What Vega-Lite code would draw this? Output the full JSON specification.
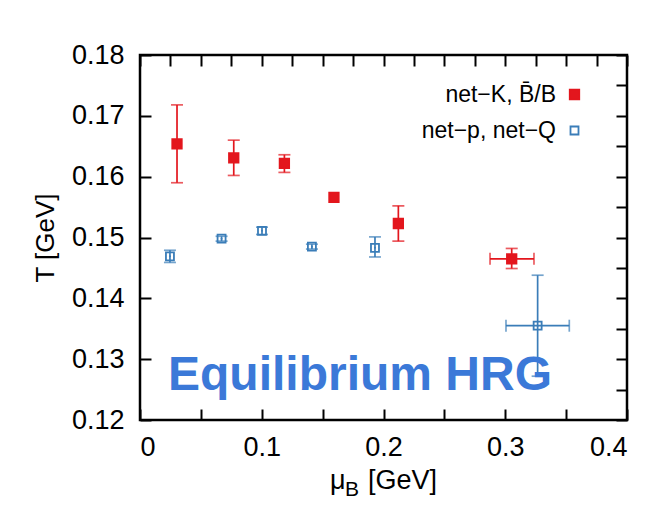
{
  "$schema": "https://vega.github.io/schema/vega-lite/v6.json",
  "width": 487,
  "height": 365,
  "autosize": "none",
  "padding": {"left": 140, "top": 55, "right": 45, "bottom": 85},
  "background": "white",
  "config": {
    "view": {"stroke": "black", "strokeWidth": 2.5},
    "font": "Liberation Sans",
    "axis": {
      "grid": false,
      "domain": false,
      "tickColor": "black",
      "tickWidth": 2,
      "tickSize": -11,
      "labelFont": "Liberation Sans",
      "labelFontSize": 27,
      "labelColor": "black",
      "titleFont": "Liberation Sans",
      "titleFontSize": 26,
      "titleFontWeight": "normal",
      "titleColor": "black"
    },
    "legend": {
      "labelFont": "Liberation Sans",
      "labelFontSize": 23,
      "labelColor": "black",
      "labelLimit": 300,
      "rowPadding": 12,
      "padding": 0,
      "symbolStrokeWidth": 1.8
    }
  },
  "datasets": {
    "pts": [
      {"series": "net−K, B̄/B", "mu": 0.0304, "T": 0.1654, "Tlo": 0.1590, "Thi": 0.1718, "mulo": null, "muhi": null},
      {"series": "net−K, B̄/B", "mu": 0.0770, "T": 0.1631, "Tlo": 0.1602, "Thi": 0.1660, "mulo": null, "muhi": null},
      {"series": "net−K, B̄/B", "mu": 0.1186, "T": 0.1622, "Tlo": 0.1607, "Thi": 0.1636, "mulo": null, "muhi": null},
      {"series": "net−K, B̄/B", "mu": 0.1593, "T": 0.1566, "Tlo": null, "Thi": null, "mulo": null, "muhi": null},
      {"series": "net−K, B̄/B", "mu": 0.2122, "T": 0.1523, "Tlo": 0.1494, "Thi": 0.1552, "mulo": null, "muhi": null},
      {"series": "net−K, B̄/B", "mu": 0.3053, "T": 0.1465, "Tlo": 0.1449, "Thi": 0.1482, "mulo": 0.2875, "muhi": 0.3236},
      {"series": "net−p, net−Q", "mu": 0.0246, "T": 0.1469, "Tlo": 0.1459, "Thi": 0.1479, "mulo": null, "muhi": null},
      {"series": "net−p, net−Q", "mu": 0.0670, "T": 0.1498, "Tlo": 0.1494, "Thi": 0.1502, "mulo": null, "muhi": null},
      {"series": "net−p, net−Q", "mu": 0.1002, "T": 0.1511, "Tlo": 0.1505, "Thi": 0.1517, "mulo": null, "muhi": null},
      {"series": "net−p, net−Q", "mu": 0.1412, "T": 0.1485, "Tlo": 0.1481, "Thi": 0.1489, "mulo": null, "muhi": null},
      {"series": "net−p, net−Q", "mu": 0.1930, "T": 0.1483, "Tlo": 0.1468, "Thi": 0.1501, "mulo": null, "muhi": null},
      {"series": "net−p, net−Q", "mu": 0.3266, "T": 0.1355, "Tlo": 0.1272, "Thi": 0.1438, "mulo": 0.3006, "muhi": 0.3526}
    ]
  },
  "data": {"name": "pts"},
  "layer": [
    {
      "layer": [
        {
          "transform": [{"filter": "datum.Tlo != null"}],
          "mark": {"type": "errorbar", "thickness": 1.7, "ticks": {"size": 12, "thickness": 1.7}},
          "encoding": {
            "x": {
              "field": "mu", "type": "quantitative",
              "scale": {"domain": [0, 0.4], "nice": false, "zero": false},
              "axis": {
                "orient": "bottom", "title": null, "labelPadding": 25,
                "values": [0, 0.025, 0.05, 0.075, 0.1, 0.125, 0.15, 0.175, 0.2, 0.225, 0.25, 0.275, 0.3, 0.325, 0.35, 0.375, 0.4],
                "labelExpr": "abs(datum.value*10 - round(datum.value*10)) < 0.001 ? format(datum.value, '~g') : ''"
              }
            },
            "y": {
              "field": "Tlo", "type": "quantitative",
              "scale": {"domain": [0.12, 0.18], "nice": false, "zero": false},
              "axis": {
                "orient": "left", "title": "T [GeV]", "labelPadding": 27, "titlePadding": 13,
                "values": [0.12, 0.125, 0.13, 0.135, 0.14, 0.145, 0.15, 0.155, 0.16, 0.165, 0.17, 0.175, 0.18],
                "labelExpr": "abs(datum.value*100 - round(datum.value*100)) < 0.001 ? format(datum.value, '.2f') : ''"
              }
            },
            "y2": {"field": "Thi"},
            "color": {
              "field": "series", "type": "nominal", "legend": null,
              "scale": {"range": ["#e3161d", "#3a7db8"]}
            }
          }
        },
        {
          "transform": [{"filter": "datum.mulo != null"}],
          "mark": {"type": "errorbar", "thickness": 1.7, "ticks": {"size": 12, "thickness": 1.7}},
          "encoding": {
            "x": {"field": "mulo", "type": "quantitative"},
            "x2": {"field": "muhi"},
            "y": {"field": "T", "type": "quantitative"},
            "color": {
              "field": "series", "type": "nominal", "legend": null,
              "scale": {"range": ["#e3161d", "#3a7db8"]}
            }
          }
        },
        {
          "mark": {"type": "point", "shape": "square", "strokeWidth": 1.8, "opacity": 1},
          "encoding": {
            "x": {"field": "mu", "type": "quantitative"},
            "y": {"field": "T", "type": "quantitative"},
            "fill": {
              "field": "series", "type": "nominal",
              "scale": {"domain": ["net−K, B̄/B", "net−p, net−Q"], "range": ["#e3161d", "transparent"]},
              "legend": {"title": null, "orient": "none", "legendX": 423, "legendY": 28, "labelAlign": "right", "labelOffset": -30}
            },
            "stroke": {
              "field": "series", "type": "nominal",
              "scale": {"domain": ["net−K, B̄/B", "net−p, net−Q"], "range": ["#e3161d", "#3a7db8"]}
            },
            "size": {
              "field": "series", "type": "nominal",
              "scale": {"domain": ["net−K, B̄/B", "net−p, net−Q"], "range": [90, 64]}
            }
          }
        },
        {
          "transform": [{"filter": "datum.series == 'net−p, net−Q'"}],
          "mark": {"type": "point", "shape": "circle", "filled": true, "size": 4, "color": "#3a7db8", "opacity": 1},
          "encoding": {
            "x": {"field": "mu", "type": "quantitative"},
            "y": {"field": "T", "type": "quantitative"}
          }
        }
      ]
    },
    {
      "mark": {"type": "point", "opacity": 0},
      "encoding": {
        "x": {
          "field": "mu", "type": "quantitative",
          "axis": {"orient": "top", "labels": false, "title": null,
            "values": [0, 0.025, 0.05, 0.075, 0.1, 0.125, 0.15, 0.175, 0.2, 0.225, 0.25, 0.275, 0.3, 0.325, 0.35, 0.375, 0.4]}
        },
        "y": {
          "field": "T", "type": "quantitative",
          "axis": {"orient": "right", "labels": false, "title": null,
            "values": [0.12, 0.125, 0.13, 0.135, 0.14, 0.145, 0.15, 0.155, 0.16, 0.165, 0.17, 0.175, 0.18]}
        }
      }
    },
    {
      "data": {"values": [{}]},
      "mark": {"type": "text", "text": "Equilibrium HRG", "align": "left", "baseline": "alphabetic", "fontSize": 48, "fontWeight": "bold", "color": "#3b79d8", "font": "Liberation Sans"},
      "encoding": {
        "x": {"datum": 0.0230, "type": "quantitative", "axis": null},
        "y": {"datum": 0.1249, "type": "quantitative", "axis": null}
      }
    },
    {
      "data": {"values": [{}]},
      "mark": {"type": "text", "text": "μ", "align": "left", "baseline": "alphabetic", "fontSize": 27, "dy": 69, "color": "black", "font": "Liberation Sans"},
      "encoding": {
        "x": {"datum": 0.1561, "type": "quantitative", "axis": null},
        "y": {"datum": 0.12, "type": "quantitative", "axis": null}
      }
    },
    {
      "data": {"values": [{}]},
      "mark": {"type": "text", "text": "B", "align": "left", "baseline": "alphabetic", "fontSize": 21, "dy": 76, "color": "black", "font": "Liberation Sans"},
      "encoding": {
        "x": {"datum": 0.1684, "type": "quantitative", "axis": null},
        "y": {"datum": 0.12, "type": "quantitative", "axis": null}
      }
    },
    {
      "data": {"values": [{}]},
      "mark": {"type": "text", "text": "[GeV]", "align": "left", "baseline": "alphabetic", "fontSize": 27, "dy": 69, "color": "black", "font": "Liberation Sans"},
      "encoding": {
        "x": {"datum": 0.1873, "type": "quantitative", "axis": null},
        "y": {"datum": 0.12, "type": "quantitative", "axis": null}
      }
    }
  ],
  "resolve": {"axis": {"x": "independent", "y": "independent"}}
}
